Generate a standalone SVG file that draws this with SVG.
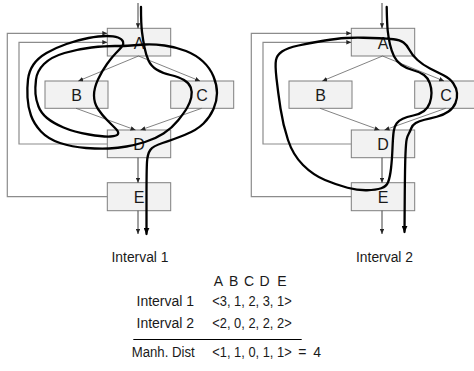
<svg xmlns="http://www.w3.org/2000/svg" width="474" height="371" viewBox="0 0 474 371">
<style>
.box{fill:#f2f2f2;stroke:#7f7f7f;stroke-width:1}
.lbl{font-family:"Liberation Sans",Arial,sans-serif;font-size:16px;fill:#1a1a1a;text-anchor:middle}
.txt{font-family:"Liberation Sans",Arial,sans-serif;font-size:14px;fill:#1a1a1a}
.thin{stroke:#595959;stroke-width:0.75;fill:none;marker-end:url(#ah)}
.vert{stroke:#404040;stroke-width:1;fill:none;marker-end:url(#ah)}
.back{stroke:#8c8c8c;stroke-width:1.2;fill:none;marker-end:url(#ah)}
.path{stroke:#000;stroke-width:2.3;fill:none;stroke-linejoin:round;stroke-linecap:round;marker-end:url(#ahk)}
</style>
<defs>
<marker id="ah" viewBox="0 0 10 10" refX="10" refY="5" markerWidth="5" markerHeight="4.5" markerUnits="userSpaceOnUse" orient="auto" preserveAspectRatio="none"><path d="M0,0 L10,5 L0,10 z" fill="#262626"/></marker>
<marker id="ahk" viewBox="0 0 10 10" refX="9" refY="5" markerWidth="7" markerHeight="6" markerUnits="userSpaceOnUse" orient="auto" preserveAspectRatio="none"><path d="M0,0 L10,5 L0,10 z" fill="#000"/></marker>
</defs>

<g id="left-A"><rect class="box" x="107.3" y="28.3" width="63.4" height="27.7"/><text class="lbl" x="139" y="48.5">A</text></g>
<g id="left-B"><rect class="box" x="45" y="81" width="63" height="27.3"/><text class="lbl" x="76.5" y="101.2">B</text></g>
<g id="left-C"><rect class="box" x="170.7" y="81" width="63" height="27.3"/><text class="lbl" x="202" y="101.2">C</text></g>
<g id="left-D"><rect class="box" x="107.3" y="130" width="63.4" height="27.7"/><text class="lbl" x="139" y="150.2">D</text></g>
<g id="left-E"><rect class="box" x="107.3" y="182.7" width="63.4" height="28"/><text class="lbl" x="139" y="202.9">E</text></g>

<g id="right-A"><rect class="box" x="351.3" y="28.3" width="63.4" height="27.7"/><text class="lbl" x="383" y="48.5">A</text></g>
<g id="right-B"><rect class="box" x="289" y="81" width="63" height="27.3"/><text class="lbl" x="320.5" y="101.2">B</text></g>
<g id="right-C"><rect class="box" x="414.7" y="81" width="63" height="27.3"/><text class="lbl" x="446" y="101.2">C</text></g>
<g id="right-D"><rect class="box" x="351.3" y="130" width="63.4" height="27.7"/><text class="lbl" x="383" y="150.2">D</text></g>
<g id="right-E"><rect class="box" x="351.3" y="182.7" width="63.4" height="28"/><text class="lbl" x="383" y="202.9">E</text></g>

<g id="connectors">
<line class="vert" x1="138" y1="3" x2="138" y2="28.3"/>
<line class="thin" x1="138.5" y1="56" x2="78.3" y2="81"/>
<line class="thin" x1="138.5" y1="56" x2="200" y2="81"/>
<line class="thin" x1="76" y1="108.3" x2="135.5" y2="130"/>
<line class="thin" x1="201.7" y1="108.3" x2="140.5" y2="130"/>
<line class="vert" x1="138" y1="157.7" x2="138" y2="182.7"/>
<line class="vert" x1="138" y1="210.7" x2="138" y2="234"/>
<polyline class="back" points="107.3,196.7 7.3,196.7 7.3,33.3 107.3,33.3"/>
<polyline class="back" points="107.3,144 19,144 19,42.3 107.3,42.3"/>

<line class="vert" x1="382" y1="3" x2="382" y2="28.3"/>
<line class="thin" x1="382.5" y1="56" x2="322.3" y2="81"/>
<line class="thin" x1="382.5" y1="56" x2="444" y2="81"/>
<line class="thin" x1="320" y1="108.3" x2="379.5" y2="130"/>
<line class="thin" x1="445.7" y1="108.3" x2="384.5" y2="130"/>
<line class="vert" x1="382" y1="157.7" x2="382" y2="182.7"/>
<line class="vert" x1="382" y1="210.7" x2="382" y2="234"/>
<polyline class="back" points="351.3,196.7 251.3,196.7 251.3,33.3 351.3,33.3"/>
<polyline class="back" points="351.3,144 263,144 263,42.3 351.3,42.3"/>

<path class="path" d="M141,7 Q141,24 142,32 Q143,40 144.5,47.5 Q146,55 148.5,60.5 Q151,66 156.5,69.5 Q162,73 170.5,75 Q179,77 184,80 Q189,83 190.75,87.5 Q192.5,92 191.25,97.5 Q190,103 187,108 Q184,113 178,120.5 Q172,128 163.5,133.5 Q155,139 145,142 Q135,145 126.5,146.5 Q118,148 109,148.5 Q100,149 86,148 Q72,147 60,143 Q48,139 41,131.5 Q34,124 31,115.5 Q28,107 27.5,97.5 Q27,88 28,79.5 Q29,71 33.5,64.5 Q38,58 46.5,53 Q55,48 66.5,44 Q78,40 88.5,38 Q99,36 106.5,36 Q114,36 118,37.5 Q122,39 123,41.5 Q124,44 122,46.5 Q120,49 116,53 Q112,57 107,64 Q102,71 98,79.5 Q94,88 94,95.5 Q94,103 98,109 Q102,115 107.5,120.5 Q113,126 116,129 Q119,132 118,134 Q117,136 110.5,136.5 Q104,137 89,134.5 Q74,132 63.5,127.5 Q53,123 47,118 Q41,113 38.5,106.5 Q36,100 35.5,94 Q35,88 36,79.5 Q37,71 44,64 Q51,57 64.5,53 Q78,49 91.5,47.5 Q105,46 115,46 Q125,46 131,45.5 Q137,45 145,44.5 Q153,44 164.5,45.5 Q176,47 186,51 Q196,55 203,61.5 Q210,68 213.5,76.5 Q217,85 217,93 Q217,101 213.5,109 Q210,117 203.5,123.5 Q197,130 184.5,135 Q172,140 162.5,143 Q153,146 150.25,150 Q147.5,154 147,162 Q146.5,170 146.5,199 L146.5,234"/>

<path class="path" d="M386.7,7 Q387,24 387.75,31 Q388.5,38 390,44.5 Q391.5,51 394,56.25 Q396.5,61.5 401.5,65 Q406.5,68.5 413.25,70.25 Q420,72 424,75 Q428,78 429.75,83 Q431.5,88 431.5,93 Q431.5,98 429.75,103 Q428,108 424,111 Q420,114 413.25,115.5 Q406.5,117 402.75,118.75 Q399,120.5 396.75,123.25 Q394.5,126 393.75,131 Q393,136 392.5,148 Q392,160 391,168.5 Q390,177 388.25,181.75 Q386.5,186.5 381.25,188.25 Q376,190 367,190.25 Q358,190.5 347.5,187.75 Q337,185 325,180 Q313,175 303,165 Q293,155 288,140 Q283,125 280.5,108.5 Q278,92 276.5,78.5 Q275,65 276,60 Q277,55 282,51.5 Q287,48 298.5,45.5 Q310,43 323.5,40.75 Q337,38.5 346,38 Q355,37.5 363.5,37.75 Q372,38 379.5,38.25 Q387,38.5 393.5,39.25 Q400,40 403.5,42.5 Q407,45 409.5,50 Q412,55 417.5,60 Q423,65 430,68.5 Q437,72 443.5,75.25 Q450,78.5 453.25,83.25 Q456.5,88 457,93 Q457.5,98 455.5,103 Q453.5,108 448.5,111.5 Q443.5,115 436.75,116.75 Q430,118.5 424.5,119.75 Q419,121 415.75,123 Q412.5,125 411.25,128.25 Q410,131.5 408.75,133.75 Q407.5,136 406.75,139 Q406,142 405.5,153.5 Q405,165 404.75,196.5 L404.5,232"/>
</g>

<g id="table">
<text class="txt" x="111.5" y="261.5" textLength="57" lengthAdjust="spacingAndGlyphs">Interval 1</text>
<text class="txt" x="356" y="261.5" textLength="57" lengthAdjust="spacingAndGlyphs">Interval 2</text>
<text class="txt" y="286" text-anchor="middle"><tspan x="220">A</tspan> <tspan x="235.5">B</tspan> <tspan x="251">C</tspan> <tspan x="266.5">D</tspan> <tspan x="282">E</tspan></text>
<text class="txt" x="136.5" y="306">Interval 1</text>
<text class="txt" x="212.3" y="306" textLength="79.4" lengthAdjust="spacingAndGlyphs">&lt;3, 1, 2, 3, 1&gt;</text>
<text class="txt" x="136.5" y="327.5">Interval 2</text>
<text class="txt" x="212.3" y="327.5" textLength="79.4" lengthAdjust="spacingAndGlyphs">&lt;2, 0, 2, 2, 2&gt;</text>
<line x1="133.3" y1="339.5" x2="301.7" y2="339.5" stroke="#000" stroke-width="1"/>
<text class="txt" x="131.7" y="356.5" textLength="63" lengthAdjust="spacingAndGlyphs">Manh. Dist</text>
<text class="txt" y="356.5"><tspan x="212.3" textLength="79.4" lengthAdjust="spacingAndGlyphs">&lt;1, 1, 0, 1, 1&gt;</tspan> <tspan x="298.3">=</tspan> <tspan x="313.3">4</tspan></text>
</g>
</svg>
